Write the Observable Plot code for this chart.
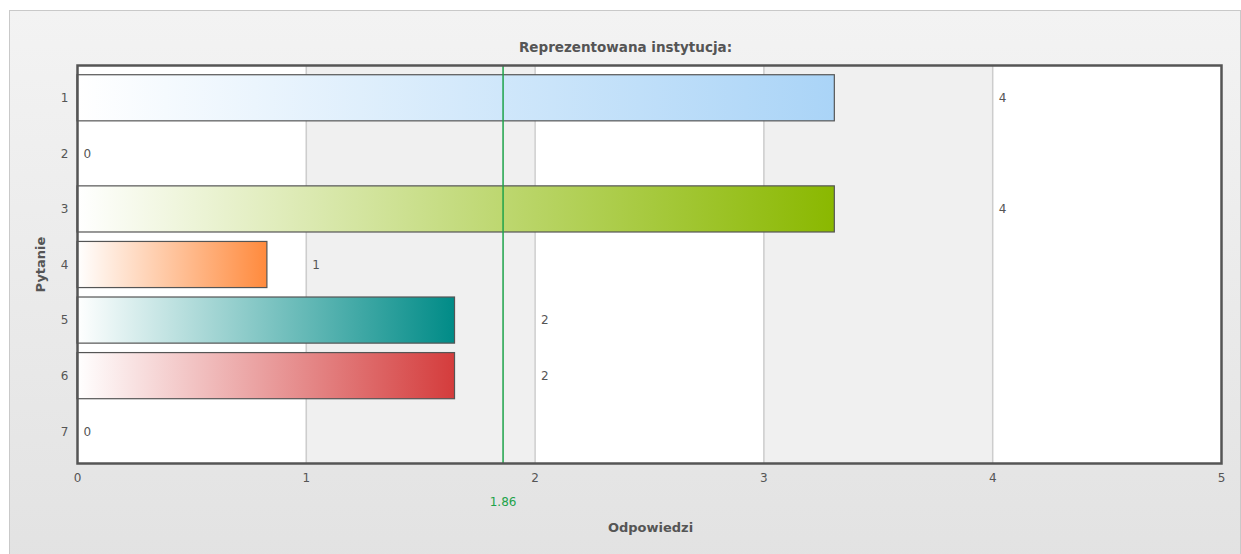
<!DOCTYPE html>
<html><head><meta charset="utf-8">
<script src="https://cdn.jsdelivr.net/npm/d3@7"></script>
<script src="https://cdn.jsdelivr.net/npm/@observablehq/plot@0.6"></script>
<style>
body{margin:0;background:#fff;}
#wrap{position:relative;width:1241px;height:554px;overflow:hidden;}
#panel{position:absolute;left:9px;top:10px;width:1230px;height:560px;border:1px solid #c9c9c9;background:linear-gradient(#f3f3f3,#e2e2e2);}
#chart{position:absolute;left:0;top:0;}
</style></head><body><div id="wrap"><div id="panel"></div><div id="chart"></div></div>
<script>
const questions = ["1","2","3","4","5","6","7"];
const counts = [4,0,4,1,2,2,0];
const barLengths = [3.31,0,3.31,0.83,1.65,1.65,0];
const barColors = ["#aad4f7","#cccccc","#8ab800","#ff8a3d","#008b87","#d43c3c","#cccccc"];
const xTicks = [0,1,2,3,4,5];
const average = 1.86;
const titleText = "Reprezentowana instytucja:";
const xLabel = "Odpowiedzi";
const yLabel = "Pytanie";

const rows = questions.map((q,i)=>({q, count:counts[i], len:barLengths[i], fill:`url(#grad${i})`}));
const bands = xTicks.slice(0,-1).map((t,i)=>({x1:t, x2:xTicks[i+1], fill: i%2 ? "#f0f0f0" : "#ffffff"}));
const defs = () => {
  const d = d3.create("svg:defs");
  barColors.forEach((c,i)=>{
    const g = d.append("linearGradient").attr("id",`grad${i}`).attr("x1","0").attr("x2","1").attr("y1","0").attr("y2","0");
    g.append("stop").attr("offset","0").attr("stop-color","#ffffff");
    g.append("stop").attr("offset","1").attr("stop-color",c);
  });
  return d.node();
};
const green = "#1ea34a";
const chart = Plot.plot({
  width:1241, height:554, marginLeft:77, marginRight:20, marginTop:65, marginBottom:91,
  style:{background:"transparent", fontFamily:"'DejaVu Sans', Verdana, sans-serif", fontSize:"12px", color:"#555"},
  x:{domain:[0,5], ticks:xTicks, tickFormat:"d"},
  y:{domain:questions, paddingInner:0.17, paddingOuter:0.085, insetTop:5, insetBottom:4, round:false},
  color:{type:"identity"},
  marks:[
    defs,
    Plot.rect(bands, {x1:"x1", x2:"x2", fill:"fill"}),
    Plot.ruleX(xTicks.slice(1,-1), {stroke:"#cdcdcd", strokeWidth:1.5}),
    Plot.barX(rows.filter(d=>d.len>0), {x:"len", y:"q", fill:"fill", stroke:"#555", strokeWidth:1.2}),
    Plot.ruleX([average], {stroke:green, strokeWidth:1.5}),
    Plot.text(rows, {x:"count", y:"q", text:d=>String(d.count), textAnchor:"start", dx:6, fill:"#555", fontSize:12}),
    Plot.frame({stroke:"#555", strokeWidth:2.5}),
    Plot.axisX({ticks:xTicks, tickSize:0, tickPadding:10, label:null, tickFormat:"d", fontSize:12}),
    Plot.axisY({tickSize:0, tickPadding:9, label:null, fontSize:12}),
    Plot.text([average], {x:d=>d, frameAnchor:"bottom", dy:42, text:d=>d.toFixed(2), fill:green, fontSize:12}),
    Plot.text([titleText], {frameAnchor:"top", dy:-23, dx:-24, text:d=>d, fontWeight:"bold", fontSize:13.5}),
    Plot.text([yLabel], {frameAnchor:"left", textAnchor:"middle", dx:-37, rotate:-90, text:d=>d, fontWeight:"bold", fontSize:13}),
    Plot.text([xLabel], {frameAnchor:"bottom", dy:68, dx:1, text:d=>d, fontWeight:"bold", fontSize:13})
  ]
});
document.getElementById("chart").appendChild(chart);
</script></body></html>
